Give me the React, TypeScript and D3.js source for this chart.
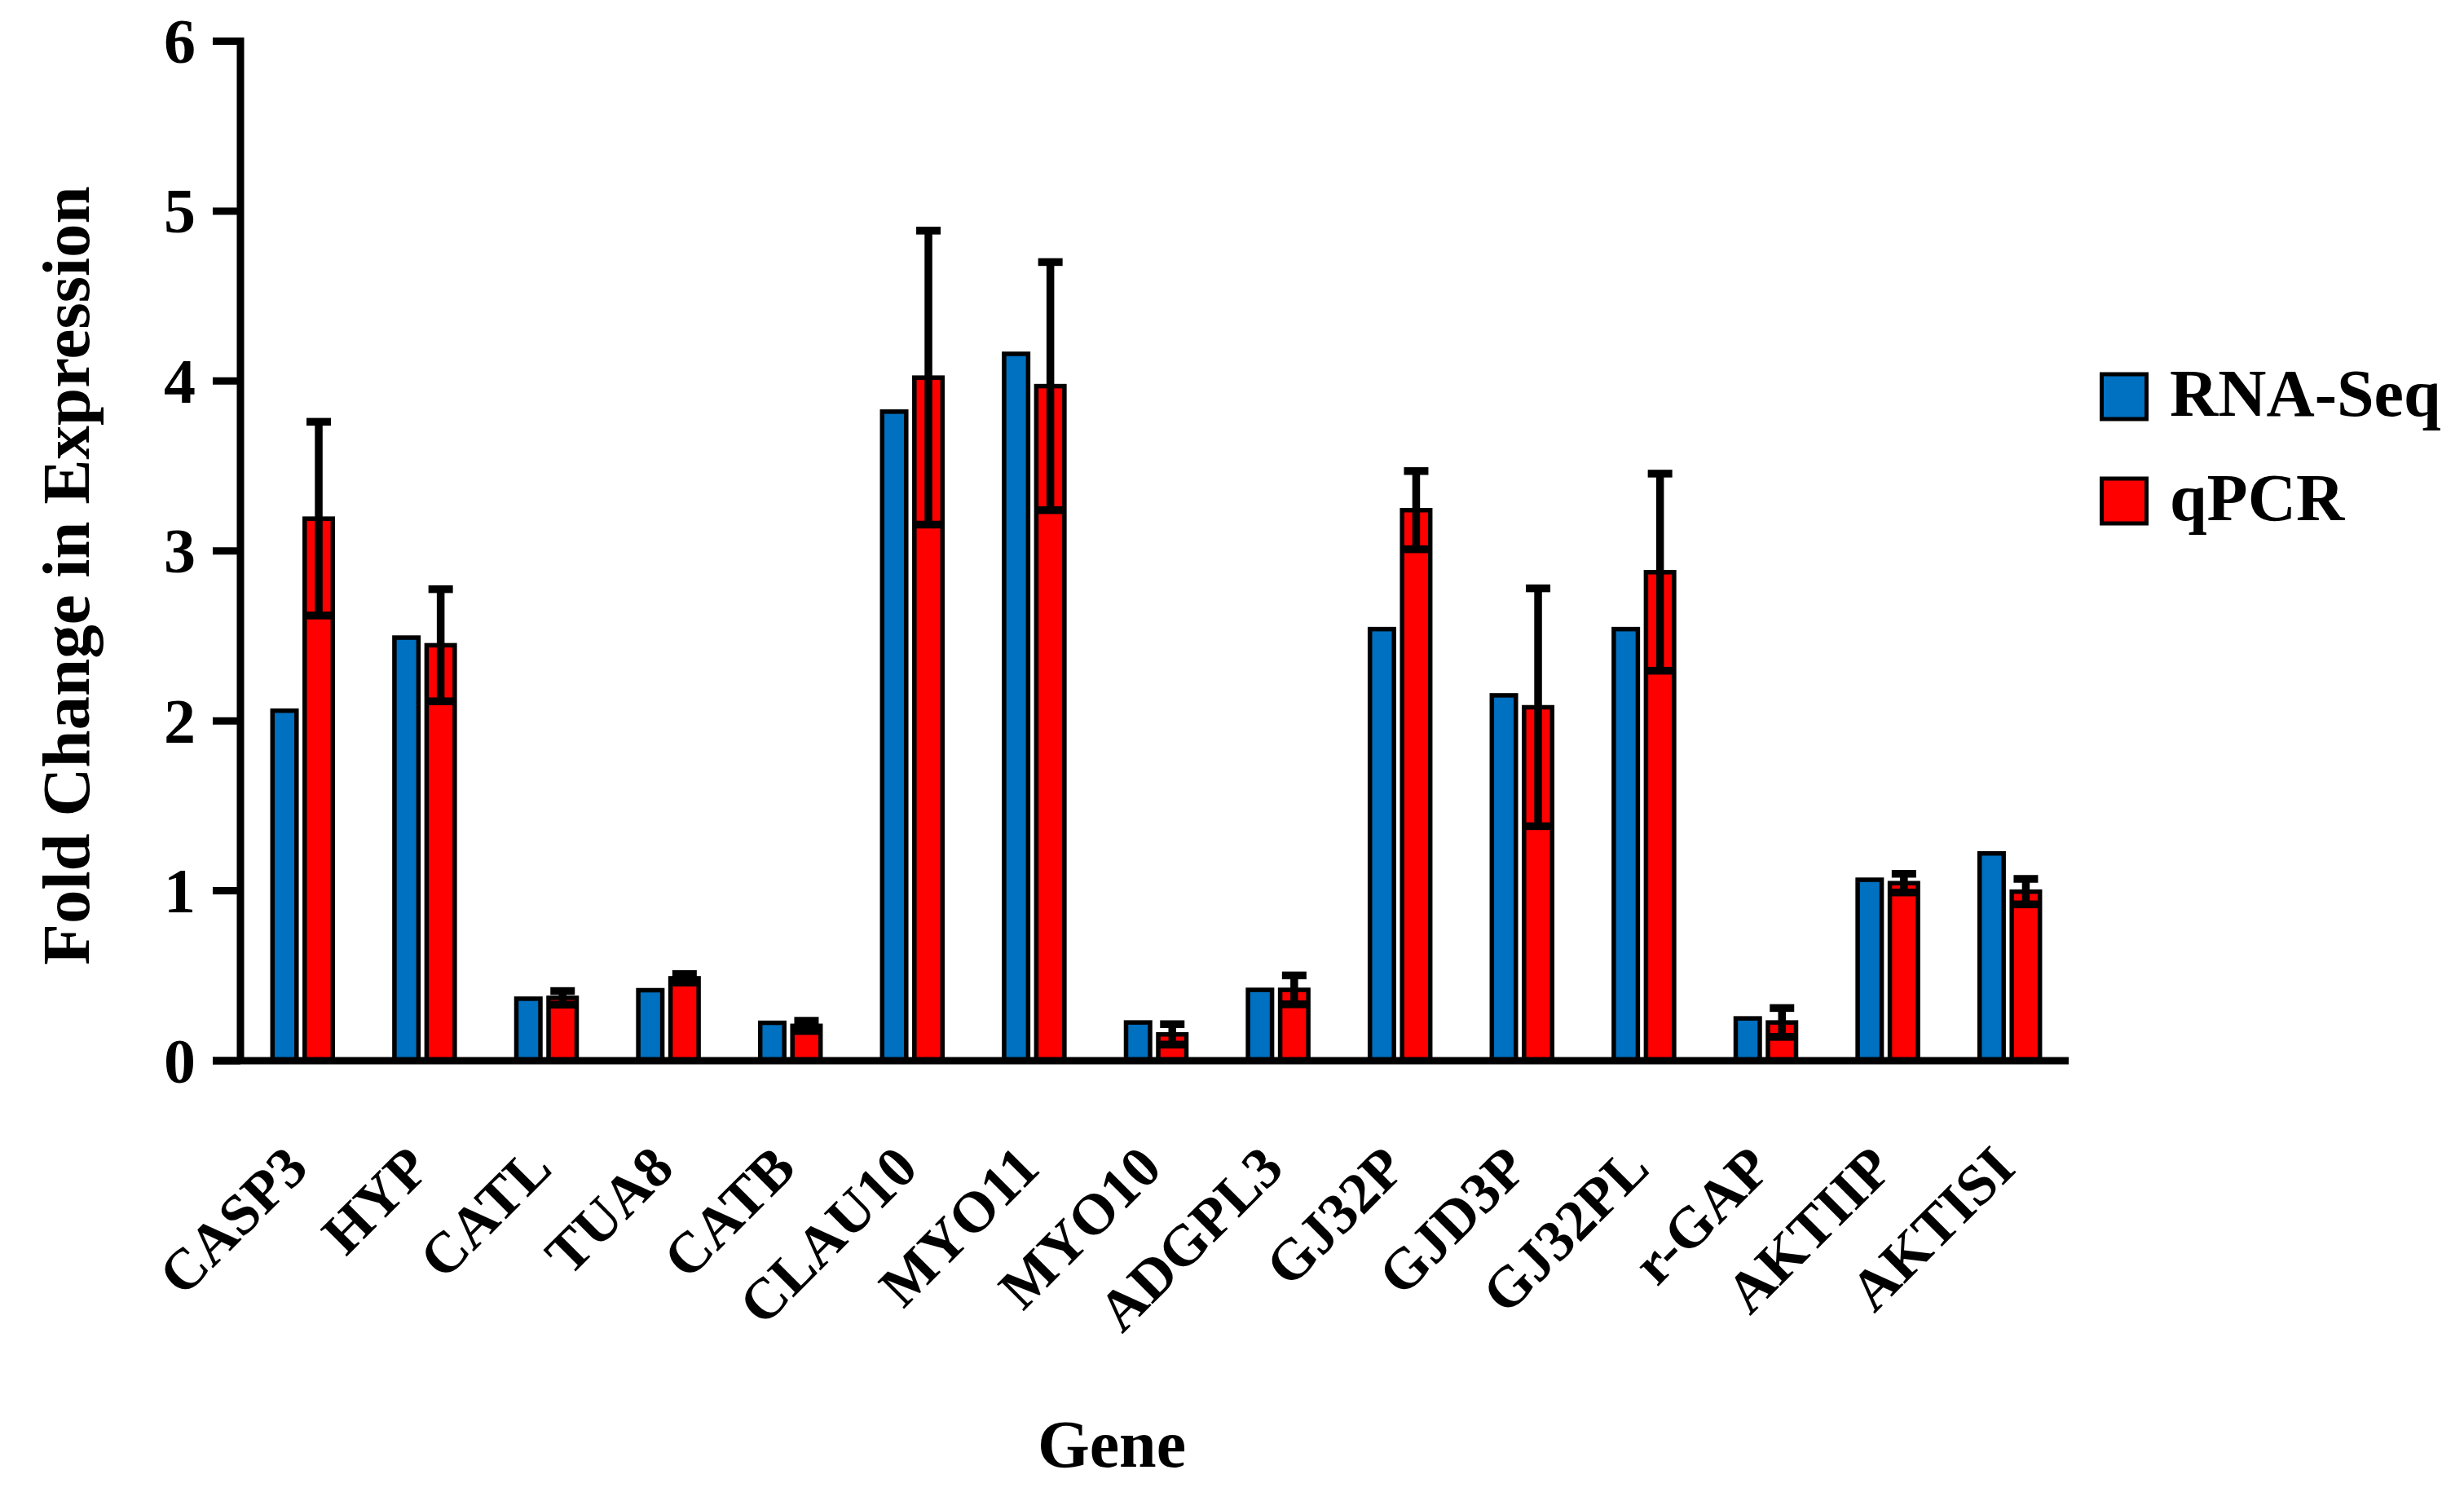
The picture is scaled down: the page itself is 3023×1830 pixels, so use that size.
import React from "react";
import * as d3 from "d3";

const genes = ["CASP3", "HYP", "CATL", "TUA8", "CATB", "CLAU10", "MYO11", "MYO10", "ADGPL3", "GJ32P", "GJD3P", "GJ32PL", "r-GAP", "AKTIIP", "AKTISI"];
const rnaSeq = [2.06, 2.49, 0.365, 0.415, 0.223, 3.82, 4.16, 0.225, 0.417, 2.54, 2.15, 2.54, 0.249, 1.065, 1.22];
const qpcr = [3.19, 2.445, 0.37, 0.485, 0.205, 4.02, 3.97, 0.155, 0.417, 3.24, 2.08, 2.875, 0.225, 1.045, 0.995];
const qpcrErr = [0.57, 0.33, 0.04, 0.025, 0.03, 0.865, 0.73, 0.06, 0.085, 0.23, 0.7, 0.58, 0.085, 0.055, 0.075];
const yTicks = [0, 1, 2, 3, 4, 5, 6];
const seriesNames = ["RNA-Seq", "qPCR"];
const seriesColors = ["#0070C0", "#FF0000"];

const W = 3023;
const H = 1830;
const FONT = "'Liberation Serif', 'Times New Roman', serif";

export default function App() {
  const x = d3.scaleBand<string>().domain(genes).range([294, 2538]).padding(0);
  const y = d3.scaleLinear().domain([0, 6]).range([1301, 50.5]);
  const axisX = 295;
  const base = y(0);
  const center = (g: string) => (x(g) as number) + x.bandwidth() / 2;

  return (
    <svg
      width={W}
      height={H}
      viewBox={`0 0 ${W} ${H}`}
      style={{ position: "absolute", left: 0, top: 0, background: "#fff" }}
      fontFamily={FONT}
      fontWeight="bold"
    >
      <rect x={0} y={0} width={W} height={H} fill="#fff" />
      {/* bars */}
      {genes.map((g, i) => {
        const c = center(g);
        return (
          <g key={g}>
            <rect
              x={c - 34.5}
              y={y(rnaSeq[i])}
              width={29.5}
              height={base - y(rnaSeq[i])}
              fill={seriesColors[0]}
              stroke="#000"
              strokeWidth={5.5}
            />
            <rect
              x={c + 5}
              y={y(qpcr[i])}
              width={34.5}
              height={base - y(qpcr[i])}
              fill={seriesColors[1]}
              stroke="#000"
              strokeWidth={5.5}
            />
          </g>
        );
      })}
      {/* error bars */}
      {genes.map((g, i) => {
        const ex = center(g) + 22.25;
        const top = y(qpcr[i] + qpcrErr[i]);
        const bot = y(qpcr[i] - qpcrErr[i]);
        return (
          <g key={"e" + g} stroke="#000" strokeWidth={9.5}>
            <line x1={ex} x2={ex} y1={top} y2={bot} />
            <line x1={ex - 15} x2={ex + 15} y1={top} y2={top} />
            <line x1={ex - 15} x2={ex + 15} y1={bot} y2={bot} />
          </g>
        );
      })}
      {/* y axis */}
      <line x1={axisX} x2={axisX} y1={y(6) - 4.5} y2={base} stroke="#000" strokeWidth={9} />
      {yTicks.map((t) => (
        <g key={"t" + t}>
          <line x1={261} x2={axisX} y1={y(t)} y2={y(t)} stroke="#000" strokeWidth={9} />
          <text x={240} y={y(t)} dy="0.34em" textAnchor="end" fontSize={78} fill="#000">
            {t}
          </text>
        </g>
      ))}
      {/* x axis */}
      <line x1={261} x2={2538} y1={base} y2={base} stroke="#000" strokeWidth={9} />
      {genes.map((g) => (
        <text
          key={"l" + g}
          transform={`translate(${center(g) + 12},${1436}) rotate(-45)`}
          textAnchor="end"
          fontSize={71}
          fill="#000"
        >
          {g}
        </text>
      ))}
      {/* axis titles */}
      <text x={1364} y={1799} textAnchor="middle" fontSize={82} fill="#000">
        Gene
      </text>
      <text
        transform={`translate(109,706) rotate(-90)`}
        textAnchor="middle"
        fontSize={83}
        fill="#000"
      >
        Fold Change in Expression
      </text>
      {/* legend */}
      {seriesNames.map((s, i) => (
        <g key={"lg" + s}>
          <rect
            x={2578.5}
            y={459 + i * 128}
            width={55}
            height={55}
            fill={seriesColors[i]}
            stroke="#000"
            strokeWidth={5}
          />
          <text x={2662} y={510 + i * 128} fontSize={82} fill="#000">
            {s}
          </text>
        </g>
      ))}
    </svg>
  );
}
